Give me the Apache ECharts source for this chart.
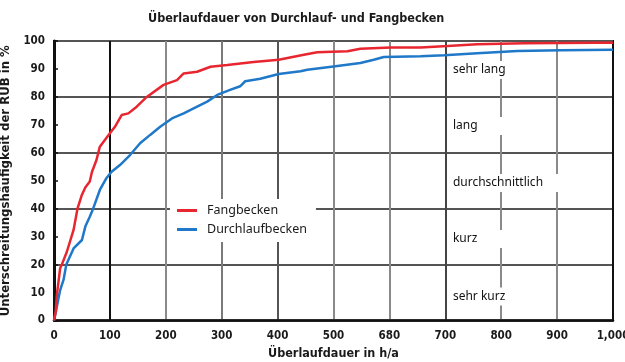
<!DOCTYPE html>
<html>
<head>
<meta charset="utf-8">
<script src="https://cdn.jsdelivr.net/npm/echarts@6/dist/echarts.min.js"></script>
<style>html,body{margin:0;padding:0;background:#fff}#c{width:625px;height:362px}</style>
</head>
<body>
<div id="c"></div>
<script>
var fangHours = [0,3,5,11,14,23,35,42,50,56,64,68,76,82,91,100,109,121,133,148,166,196,220,232,256,280,310,357,402,447,471,525,548,602,656,704,757,840,966,1000];
var fangPct   = [0,3,9,18.7,20,24.6,32.4,40,45,47.6,49.7,53.2,57.4,62.2,64.6,67,69.3,73.5,74.1,76.5,80,84.3,86,88.4,89,90.8,91.4,92.5,93.3,95.1,96,96.3,97.2,97.7,97.7,98.2,98.8,99.2,99.4,99.4];
var durchHours = [0,4,11,17,22,35,50,56,64,70,82,94,103,118,136,154,172,190,211,232,256,274,292,315,333,342,369,402,441,453,500,548,572,590,656,698,757,829,907,1000];
var durchPct   = [0,3.8,10.9,14.5,20,25.8,28.8,33.6,37.1,40,46.7,51,53.2,55.6,59.2,63.4,66.4,69.3,72.3,74.1,76.5,78.3,80.7,82.5,83.8,85.6,86.5,88.2,89.2,89.7,90.9,92.1,93.3,94.3,94.5,94.9,95.6,96.4,96.7,96.9];
var xTickLabels = ['0','100','200','300','400','500','680','700','800','900','1,000'];
var zoneLabels = ['sehr lang','lang','durchschnittlich','kurz','sehr kurz'];
var zonePct = [89.6,69.6,49.2,29.2,8.6];
var zoneHour = 710;

var NF = "'Liberation Sans Narrow','DejaVu Sans Condensed',sans-serif";
function pairs(xs, ys){ return xs.map(function(x,i){ return [x, ys[i]]; }); }

var chart = echarts.init(document.getElementById('c'), null, {renderer:'canvas'});
chart.setOption({
  animation:false,
  backgroundColor:'#fff',
  title:{
    text:'Überlaufdauer von Durchlauf- und Fangbecken',
    left:143, top:7,
    textStyle:{fontFamily:NF, fontWeight:'bold', fontSize:12.5, color:'#1a1a1a'}
  },
  legend:{
    orient:'vertical', left:170, top:199,
    backgroundColor:'#fff',
    padding:[5,9,6,7],
    itemGap:6,
    icon:'rect', itemWidth:20, itemHeight:3,
    textStyle:{fontFamily:'Noto Sans, sans-serif', fontSize:12.5, color:'#1a1a1a', padding:[0,0,0,5]},
    data:['Fangbecken','Durchlaufbecken']
  },
  grid:{left:54, right:12, top:41, bottom:41.5, containLabel:false, outerBoundsMode:'none',
        show:true, borderColor:'#111', borderWidth:2, backgroundColor:'transparent'},
  xAxis:{
    type:'value', min:0, max:1000, interval:100,
    name:'Überlaufdauer in h/a', nameLocation:'middle', nameGap:27,
    nameTextStyle:{fontFamily:NF, fontWeight:'bold', fontSize:12.5, color:'#1a1a1a'},
    axisLine:{show:true, lineStyle:{color:'#111', width:2.5}},
    axisTick:{show:false},
    axisLabel:{fontFamily:NF, fontWeight:'bold', fontSize:11.5, color:'#1a1a1a', margin:10,
      formatter:function(v){ return xTickLabels[Math.round(v/100)]; }},
    splitLine:{show:true, lineStyle:{width:2, color:['#111','#111','#8a8a8a','#7a7a7a','#555','#8a8a8a','#8a8a8a','#444','#8a8a8a','#8a8a8a','#111']}}
  },
  yAxis:{
    type:'value', min:0, max:100, interval:10,
    name:'Unterschreitungshäufigkeit der RÜB in %', nameLocation:'middle', nameGap:38, nameRotate:90,
    nameTextStyle:{fontFamily:NF, fontWeight:'bold', fontSize:13, color:'#1a1a1a'},
    axisLine:{show:true, lineStyle:{color:'#111', width:3}},
    axisTick:{show:true, inside:true, length:4, lineStyle:{color:'#111', width:1.5}},
    axisLabel:{fontFamily:NF, fontWeight:'bold', fontSize:11.5, color:'#1a1a1a', margin:9},
    splitLine:{show:true, lineStyle:{width:2, color:['#555','transparent']}}
  },
  series:[
    {
      name:'zones', type:'scatter', symbolSize:0, silent:true, z:3,
      itemStyle:{color:'#000', opacity:1},
      data: zonePct.map(function(p,i){ return {value:[zoneHour,p], name:zoneLabels[i]}; }),
      label:{show:true, position:'right', distance:0, formatter:'{b}',
        fontFamily:'Noto Sans, sans-serif', fontSize:12, color:'#111', opacity:1, textBorderWidth:0,
        backgroundColor:'#fff', padding:[3,30,3,2]}
    },
    {
      name:'Durchlaufbecken', type:'line', showSymbol:false, z:4,
      data:pairs(durchHours, durchPct),
      lineStyle:{color:'#1f78c8', width:2.5}, itemStyle:{color:'#1f78c8'}
    },
    {
      name:'Fangbecken', type:'line', showSymbol:false, z:5,
      data:pairs(fangHours, fangPct),
      lineStyle:{color:'#e8262f', width:2.5}, itemStyle:{color:'#e8262f'}
    }
  ]
});
</script>
</body>
</html>
